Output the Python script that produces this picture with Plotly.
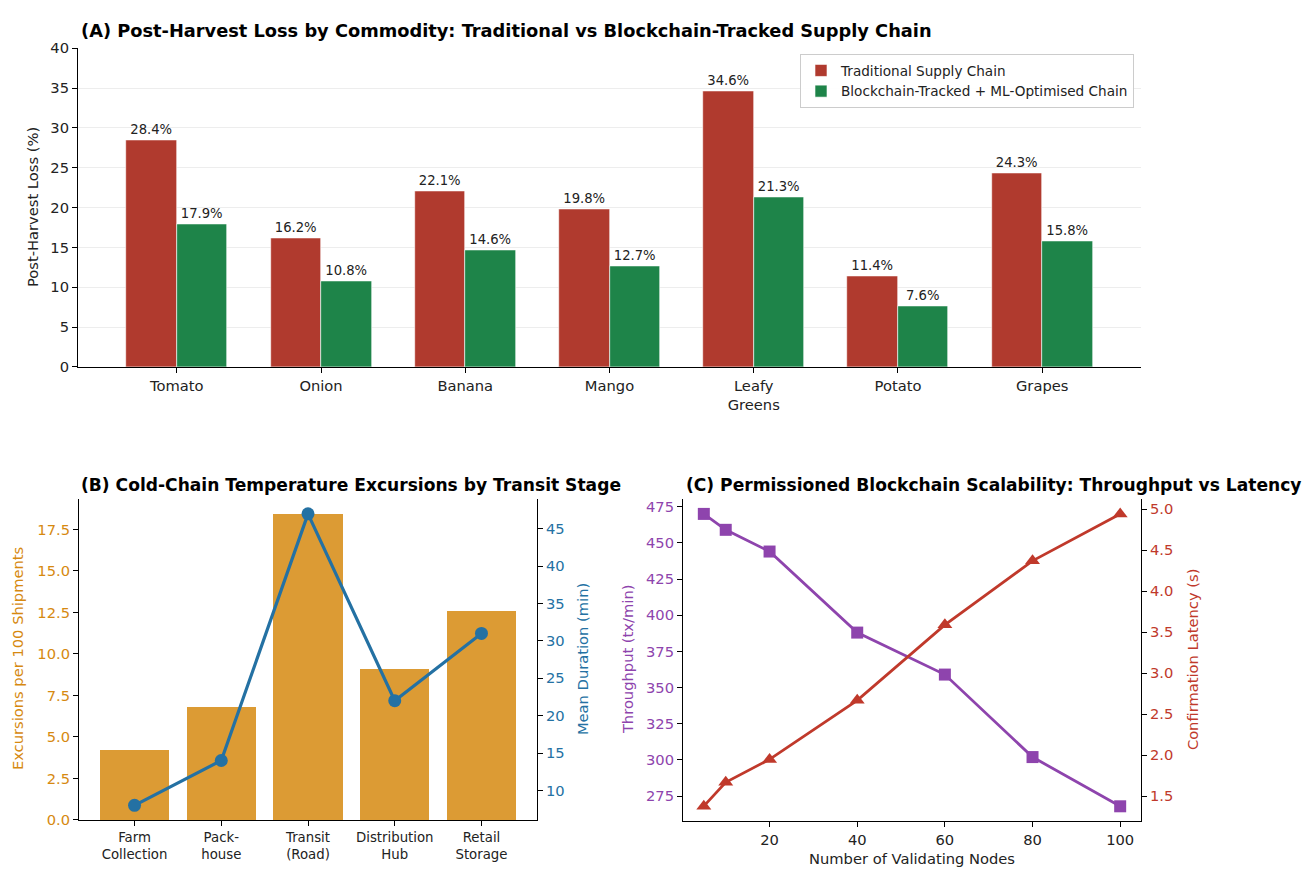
import plotly.graph_objects as go

# ---- Panel A: post-harvest loss by commodity ----
commodities = ["Tomato", "Onion", "Banana", "Mango", "Leafy<br>Greens", "Potato", "Grapes"]
loss_traditional = [28.4, 16.2, 22.1, 19.8, 34.6, 11.4, 24.3]
loss_blockchain = [17.9, 10.8, 14.6, 12.7, 21.3, 7.6, 15.8]

# ---- Panel B: cold-chain excursions by transit stage ----
stages = ["Farm<br>Collection", "Pack-<br>house", "Transit<br>(Road)", "Distribution<br>Hub", "Retail<br>Storage"]
excursions = [4.2, 6.8, 18.4, 9.1, 12.6]
mean_duration = [8, 14, 47, 22, 31]

# ---- Panel C: blockchain scalability ----
nodes = [5, 10, 20, 40, 60, 80, 100]
throughput = [470, 459, 444, 388, 359, 302, 268]
latency = [1.38, 1.67, 1.95, 2.67, 3.59, 4.37, 4.94]

W, H = 1307, 875
FONT = "DejaVu Sans"

RED = "#B03A2E"
GREEN = "#1E8449"
ORANGE = "#D68910"
BLUE = "#2471A3"
PURPLE = "#8E44AD"
LRED = "#C0392B"

TITLE_A_SIZE = 17.8
TITLE_SIZE = 17.1
TICK_SIZE = 14.7
LABEL_SIZE = 14.7


def px_x(x):
    return x / W


def px_y(y):
    return 1 - y / H


fig = go.Figure()

bw = 0.35
idx = list(range(len(commodities)))
fig.add_trace(go.Bar(
    x=[i - bw / 2 for i in idx], y=loss_traditional, width=bw,
    name="Traditional Supply Chain", marker=dict(color=RED, line=dict(color="white", width=0.6)),
    texttemplate="%{y:.1f}%", textposition="outside", textfont=dict(size=13.2, color="#222"),
    cliponaxis=False, xaxis="x", yaxis="y"))
fig.add_trace(go.Bar(
    x=[i + bw / 2 for i in idx], y=loss_blockchain, width=bw,
    name="Blockchain-Tracked + ML-Optimised Chain", marker=dict(color=GREEN, line=dict(color="white", width=0.6)),
    texttemplate="%{y:.1f}%", textposition="outside", textfont=dict(size=13.2, color="#222"),
    cliponaxis=False, xaxis="x", yaxis="y"))

# Panel B bars + line on twin axis
sidx = list(range(len(stages)))
fig.add_trace(go.Bar(
    x=sidx, y=excursions, width=0.8, marker=dict(color=ORANGE, opacity=0.85, line=dict(width=0)),
    showlegend=False, xaxis="x2", yaxis="y2"))
fig.add_trace(go.Scatter(
    x=sidx, y=mean_duration, mode="lines+markers",
    line=dict(color=BLUE, width=3.2), marker=dict(size=13, color=BLUE),
    showlegend=False, cliponaxis=False, xaxis="x2", yaxis="y3"))

# Panel C throughput and latency
fig.add_trace(go.Scatter(
    x=nodes, y=throughput, mode="lines+markers",
    line=dict(color=PURPLE, width=2.8), marker=dict(symbol="square", size=12, color=PURPLE),
    showlegend=False, cliponaxis=False, xaxis="x3", yaxis="y4"))
fig.add_trace(go.Scatter(
    x=nodes, y=latency, mode="lines+markers",
    line=dict(color=LRED, width=2.8), marker=dict(symbol="triangle-up", size=13, color=LRED),
    showlegend=False, cliponaxis=False, xaxis="x3", yaxis="y5"))

axis_common = dict(showline=True, linecolor="black", linewidth=1.1, ticks="outside",
                   ticklen=5, tickcolor="black", zeroline=False, showgrid=False,
                   tickfont=dict(size=TICK_SIZE, color="#222"))

fig.update_layout(
    width=W, height=H, margin=dict(l=0, r=0, t=0, b=0),
    paper_bgcolor="white", plot_bgcolor="white",
    font=dict(family=FONT, color="#222"),
    barmode="overlay", bargap=0,
    xaxis=dict(**axis_common, domain=[px_x(78), px_x(1141)], anchor="y",
               range=[-0.685, 6.685], tickvals=idx, ticktext=commodities),
    yaxis=dict(**{**axis_common, "showgrid": True}, domain=[px_y(365), px_y(40)], anchor="x",
               range=[0, 40], dtick=5, gridcolor="rgba(0,0,0,0.07)", gridwidth=1,
               layer="above traces"),
    xaxis2=dict(**{**axis_common, "tickfont": dict(size=13.3, color="#222")},
                domain=[px_x(79), px_x(537)], anchor="y2",
                range=[-0.64, 4.64], tickvals=sidx, ticktext=stages),
    yaxis2=dict(**{**axis_common, "tickfont": dict(size=TICK_SIZE, color=ORANGE)},
                domain=[px_y(827), px_y(500)], anchor="x2",
                range=[0, 19.32], dtick=2.5, tickformat=".1f"),
    yaxis3=dict(**{**axis_common, "tickfont": dict(size=TICK_SIZE, color=BLUE)},
                overlaying="y2", side="right", anchor="x2",
                range=[6.05, 48.95], dtick=5),
    xaxis3=dict(**axis_common, domain=[px_x(683), px_x(1141)], anchor="y4",
                range=[0.25, 104.75], dtick=20),
    yaxis4=dict(**{**axis_common, "tickfont": dict(size=TICK_SIZE, color=PURPLE)},
                domain=[px_y(828), px_y(500)], anchor="x3",
                range=[257.9, 480.1], dtick=25),
    yaxis5=dict(**{**axis_common, "tickfont": dict(size=TICK_SIZE, color=LRED)},
                overlaying="y4", side="right", anchor="x3",
                range=[1.2, 5.12], dtick=0.5, tickformat=".1f"),
    legend=dict(x=px_x(1134), y=px_y(46), xanchor="right", yanchor="top",
                bgcolor="rgba(255,255,255,0.9)", bordercolor="#ccc", borderwidth=1,
                font=dict(size=13.6, color="#222"), traceorder="normal",
                itemwidth=30, tracegroupgap=2),
)

annotations = [
    # panel titles (left-aligned)
    dict(text="<b>(A) Post-Harvest Loss by Commodity: Traditional vs Blockchain-Tracked Supply Chain</b>",
         x=px_x(79), y=px_y(22), xanchor="left", yanchor="middle", font=dict(size=TITLE_A_SIZE, color="black")),
    dict(text="<b>(B) Cold-Chain Temperature Excursions by Transit Stage</b>",
         x=px_x(79), y=px_y(485), xanchor="left", yanchor="middle", font=dict(size=TITLE_SIZE, color="black")),
    dict(text="<b>(C) Permissioned Blockchain Scalability: Throughput vs Latency</b>",
         x=px_x(684), y=px_y(485), xanchor="left", yanchor="middle", font=dict(size=TITLE_SIZE, color="black")),
    # axis titles
    dict(text="Post-Harvest Loss (%)", x=px_x(32), y=px_y(202), textangle=-90,
         xanchor="center", yanchor="middle", font=dict(size=LABEL_SIZE, color="#222")),
    dict(text="Excursions per 100 Shipments", x=px_x(17), y=px_y(663), textangle=-90,
         xanchor="center", yanchor="middle", font=dict(size=LABEL_SIZE, color=ORANGE)),
    dict(text="Mean Duration (min)", x=px_x(582), y=px_y(663), textangle=-90,
         xanchor="center", yanchor="middle", font=dict(size=LABEL_SIZE, color=BLUE)),
    dict(text="Throughput (tx/min)", x=px_x(627), y=px_y(663), textangle=-90,
         xanchor="center", yanchor="middle", font=dict(size=LABEL_SIZE, color=PURPLE)),
    dict(text="Confirmation Latency (s)", x=px_x(1192), y=px_y(663), textangle=-90,
         xanchor="center", yanchor="middle", font=dict(size=LABEL_SIZE, color=LRED)),
    dict(text="Number of Validating Nodes", x=px_x(912), y=px_y(866),
         xanchor="center", yanchor="middle", font=dict(size=LABEL_SIZE, color="#222")),
]
for a in annotations:
    a.update(xref="paper", yref="paper", showarrow=False)
fig.update_layout(annotations=annotations)

fig.write_html("out.html")
